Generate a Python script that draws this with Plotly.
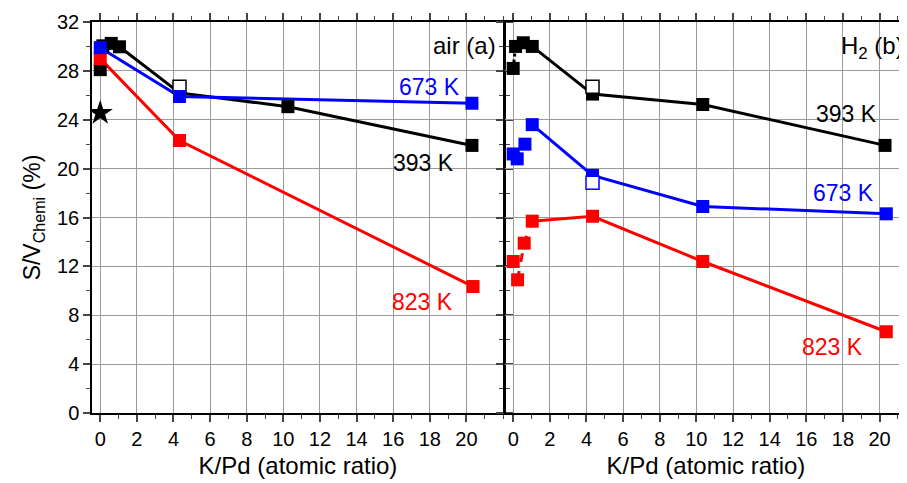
import plotly.graph_objects as go

# ---------------- data ----------------
# Panel (a): air
air_393_x = [0, 0.14, 0.6, 1.05, 4.33, 10.25, 20.3]
air_393_y = [28.1, 30.05, 30.25, 29.97, 26.2, 25.07, 21.9]
air_673_x = [0, 4.33, 20.3]
air_673_y = [29.9, 25.9, 25.35]
air_823_x = [0, 4.33, 20.36]
air_823_y = [29.0, 22.3, 10.35]
air_open_393 = (4.33, 26.7)
air_star = (0, 24.55)

# Panel (b): H2
h2_393_x = [0, 0.13, 0.55, 1.04, 4.33, 10.35, 20.3]
h2_393_y = [28.2, 30.0, 30.3, 30.0, 26.1, 25.25, 21.9]
h2_673_x = [0, 0.22, 0.64, 1.04, 4.33, 10.35, 20.37]
h2_673_y = [21.2, 20.8, 22.0, 23.6, 19.45, 16.9, 16.3]
h2_823_x = [0, 0.24, 0.6, 1.04, 4.33, 10.35, 20.37]
h2_823_y = [12.4, 10.9, 13.9, 15.7, 16.1, 12.4, 6.65]
h2_open_393 = (4.33, 26.7)
h2_open_673 = (4.33, 18.85)

x_ticks = [0, 2, 4, 6, 8, 10, 12, 14, 16, 18, 20]
y_ticks = [0, 4, 8, 12, 16, 20, 24, 28, 32]

BLACK = "#000000"
BLUE = "#0000FF"
RED = "#FF0000"
FONT = "Liberation Sans, Arial, sans-serif"
MS = 13
LW = 3

fig = go.Figure()

def line(x, y, color, xa, ya, dash="solid"):
    fig.add_trace(go.Scatter(x=x, y=y, mode="lines", xaxis=xa, yaxis=ya,
                             line=dict(color=color, width=LW, dash=dash),
                             showlegend=False, hoverinfo="skip"))

def marks(x, y, color, xa, ya, fill=None, symbol="square", size=MS):
    fig.add_trace(go.Scatter(x=x, y=y, mode="markers", xaxis=xa, yaxis=ya,
                             marker=dict(symbol=symbol, size=size,
                                         color=fill if fill else color,
                                         line=dict(color=color, width=1.5 if fill else 0)),
                             showlegend=False))

# ---- panel (a) ----
line(air_393_x[3:], air_393_y[3:], BLACK, "x", "y")
line(air_673_x, air_673_y, BLUE, "x", "y")
line(air_823_x, air_823_y, RED, "x", "y")
marks(air_393_x, air_393_y, BLACK, "x", "y")
marks([air_open_393[0]], [air_open_393[1]], BLACK, "x", "y", fill="white")
marks(air_823_x, air_823_y, RED, "x", "y")
marks(air_673_x, air_673_y, BLUE, "x", "y")
marks([air_star[0]], [air_star[1]], BLACK, "x", "y", symbol="star", size=19)

# ---- panel (b) ----
line(h2_393_x[:2], h2_393_y[:2], BLACK, "x2", "y2", dash="dot")
line(h2_393_x[3:], h2_393_y[3:], BLACK, "x2", "y2")
line(h2_673_x[3:], h2_673_y[3:], BLUE, "x2", "y2")
line(h2_823_x[1:4], h2_823_y[1:4], RED, "x2", "y2", dash="dash")
line(h2_823_x[3:], h2_823_y[3:], RED, "x2", "y2")
marks(h2_393_x, h2_393_y, BLACK, "x2", "y2")
marks([h2_open_393[0]], [h2_open_393[1]], BLACK, "x2", "y2", fill="white")
marks(h2_673_x, h2_673_y, BLUE, "x2", "y2")
marks([h2_open_673[0]], [h2_open_673[1]], BLUE, "x2", "y2", fill="white")
marks(h2_823_x, h2_823_y, RED, "x2", "y2")

GRID = "#9a9a9a"
tickfont = dict(family=FONT, size=20, color="black")
titlefont = dict(family=FONT, size=24, color="black")

xcommon = dict(tickmode="array", tickvals=x_ticks, ticktext=[str(v) for v in x_ticks],
               ticks="outside", ticklen=7,
               tickwidth=1.5, showgrid=True, gridcolor=GRID, gridwidth=1.3,
               showline=True, linecolor="black", linewidth=1.5, mirror="ticks",
               zeroline=False, tickfont=tickfont, automargin=False,
               minor=dict(tick0=0, dtick=1, ticklen=4, tickwidth=1.2, ticks="outside", showgrid=False),
               title=dict(text="K/Pd (atomic ratio)", font=titlefont, standoff=8))
ycommon = dict(range=[0, 32], tickmode="array", tickvals=y_ticks,
               ticktext=[str(v) for v in y_ticks], ticks="outside",
               ticklen=7, tickwidth=1.5, showgrid=True, gridcolor=GRID, gridwidth=1.3,
               showline=True, linecolor="black", linewidth=1.5, zeroline=False,
               tickfont=tickfont, automargin=False,
               minor=dict(tick0=0, dtick=2, ticklen=4, tickwidth=1.2, ticks="outside", showgrid=False))

# the page has an 8px body margin, so the figure is drawn 8px smaller and shifted
fig.update_layout(
    width=899, height=475,
    margin=dict(l=84, r=0, t=14, b=70),
    paper_bgcolor="white", plot_bgcolor="white",
    font=dict(family=FONT, color="black"),
    xaxis=dict(domain=[0, 0.5055], range=[-0.45, 22.05], anchor="y", **xcommon),
    xaxis2=dict(domain=[0.5067, 1.0], range=[-0.45, 21.5], anchor="y2", **xcommon),
    yaxis=dict(domain=[0, 1], anchor="x", mirror="ticks",
               title=dict(text="S/V<sub>Chemi</sub> (%)", font=dict(family=FONT, size=23, color="black"), standoff=10),
               **ycommon),
    yaxis2=dict(domain=[0, 1], anchor="x2", showticklabels=False, mirror=False, **ycommon),
)

def ann(text, x, y, color, xa, ya, size=23):
    fig.add_annotation(text=text, x=x, y=y, xref=xa, yref=ya, xanchor="right",
                       yanchor="middle", showarrow=False,
                       font=dict(family=FONT, size=size, color=color))

ann("air (a)", 21.75, 30.1, BLACK, "x", "y", size=24)
ann("673 K", 19.75, 26.65, BLUE, "x", "y")
ann("393 K", 19.45, 20.5, BLACK, "x", "y")
ann("823 K", 19.36, 9.1, RED, "x", "y")
ann("H<sub>2</sub> (b)", 21.46, 29.9, BLACK, "x2", "y2", size=24)
ann("393 K", 19.97, 24.45, BLACK, "x2", "y2")
ann("673 K", 19.83, 17.98, BLUE, "x2", "y2")
ann("823 K", 19.19, 5.43, RED, "x2", "y2")

fig.write_html("out.html")
